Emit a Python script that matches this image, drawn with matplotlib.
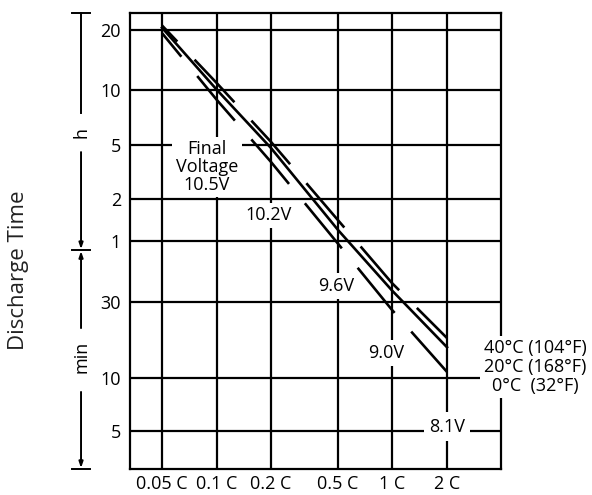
import numpy as np
import matplotlib
matplotlib.use("Agg")
import matplotlib.pyplot as plt
from matplotlib.ticker import NullLocator

plt.rcParams['font.family'] = ['Open Sans', 'DejaVu Sans']
plt.rcParams['lines.scale_dashes'] = False

# discharge current (C rate)
rates = [0.05, 0.1, 0.2, 0.5, 1, 2]
rate_labels = ['0.05 C', '0.1 C', '0.2 C', '0.5 C', '1 C', '2 C']

# discharge time in hours
time_40c = [21.0, 10.8, 5.2, 1.41, 0.62, 0.297]
time_20c = [20.5, 10.0, 4.75, 1.2, 0.57, 0.26]
time_0c = [19.3, 8.8, 3.75, 0.97, 0.446, 0.182]

time_ticks = [20, 10, 5, 2, 1, 0.5, 1 / 6, 1 / 12]
time_labels = ['20', '10', '5', '2', '1', '30', '10', '5']

final_voltages = ['10.5V', '10.2V', '9.6V', '9.0V', '8.1V']
temp_labels = ['40°C (104°F)', '20°C (168°F)', '0°C  (32°F)']


def extrap(x, xp, fp):
    x = np.asarray(x, float)
    y = np.interp(x, xp, fp)
    lo = fp[0] + (x - xp[0]) * (fp[1] - fp[0]) / (xp[1] - xp[0])
    hi = fp[-1] + (x - xp[-1]) * (fp[-1] - fp[-2]) / (xp[-1] - xp[-2])
    y = np.where(x < xp[0], lo, y)
    y = np.where(x > xp[-1], hi, y)
    return y


def grid_scale(vals, pos):
    # chart grid is hand spaced, not a true log: piecewise log scale
    lv = np.log10(vals)
    pos = np.asarray(pos, float)

    def fwd(v):
        with np.errstate(divide='ignore', invalid='ignore'):
            lx = np.log10(np.maximum(np.asarray(v, float), 1e-12))
        return extrap(lx, lv, pos)

    def inv(p):
        return 10 ** extrap(p, pos, lv)
    return fwd, inv


fs = 13
fig = plt.figure(figsize=(5.92, 4.95), dpi=100)
ax = fig.add_axes([130 / 592, 26 / 495, 371 / 592, 456 / 495])

ax.set_xscale('function', functions=grid_scale(
    [0.033, 0.05, 0.1, 0.2, 0.5, 1, 2, 4],
    [0, 32, 87, 141, 208, 262, 317, 371]))
ax.set_yscale('function', functions=grid_scale(
    [0.05, 1 / 12, 1 / 6, 0.5, 1, 2, 5, 10, 20, 24],
    [0, 38, 91, 167, 228, 270, 324, 379, 439, 456]))
ax.set_xlim(0.033, 4)
ax.set_ylim(0.05, 24)

lw = 1.9
ax.plot(rates, time_40c, color='black', lw=lw, linestyle=(26, (42, 18)), solid_capstyle='butt')
ax.plot(rates, time_20c, color='black', lw=lw, linestyle='-')
ax.plot(rates, time_0c, color='black', lw=lw, linestyle=(20, (42, 18)), solid_capstyle='butt')

ax.set_xticks(rates, rate_labels)
ax.set_yticks(time_ticks, time_labels)
ax.xaxis.set_minor_locator(NullLocator())
ax.yaxis.set_minor_locator(NullLocator())
ax.tick_params(axis='both', length=0, labelsize=fs)
ax.tick_params(axis='x', pad=4.5)
ax.tick_params(axis='y', pad=6.5)
ax.grid(True, color='black', lw=1.6)
for sp in ax.spines.values():
    sp.set_linewidth(1.6)

box = dict(facecolor='white', edgecolor='none', boxstyle='square,pad=0.2')
ax.text(0.088, 3.45, 'Final\nVoltage\n' + final_voltages[0], fontsize=fs,
        ha='center', va='center', linespacing=0.98, bbox=box)
ax.text(0.195, 1.53, final_voltages[1], fontsize=fs, ha='center', va='center', bbox=box)
ax.text(0.486, 0.6, final_voltages[2], fontsize=fs, ha='center', va='center', bbox=box)
ax.text(0.927, 0.239, final_voltages[3], fontsize=fs, ha='center', va='center', bbox=box)
ax.text(2.0, 0.088, final_voltages[4], fontsize=fs, ha='center', va='center',
        bbox=dict(facecolor='white', edgecolor='none', boxstyle='square,pad=0.3'))

ax.text(1.092, 0.224, '\n'.join(temp_labels), transform=ax.transAxes, fontsize=fs,
        ha='center', va='center', multialignment='center', linespacing=1.05,
        bbox=dict(facecolor='white', edgecolor='none', boxstyle='square,pad=0.2'))

# h / min bracket on the left
bx = -0.132
kw = dict(color='black', lw=1.4, transform=ax.transAxes, clip_on=False)
for yy in [1.0, 0.48, 0.0]:
    ax.plot([bx - 0.024, bx + 0.024], [yy, yy], **kw)
ax.plot([bx, bx], [1.0, 0.781], **kw)
arrow = dict(arrowstyle='-|>,head_length=0.35,head_width=0.12', lw=1.4, color='black',
             shrinkA=0, shrinkB=0)
ax.annotate('', xy=(bx, 0.482), xytext=(bx, 0.695), xycoords='axes fraction',
            textcoords='axes fraction', arrowprops=arrow)
ax.annotate('', xy=(bx, 0.478), xytext=(bx, 0.309), xycoords='axes fraction',
            textcoords='axes fraction', arrowprops=arrow)
ax.annotate('', xy=(bx, 0.002), xytext=(bx, 0.169), xycoords='axes fraction',
            textcoords='axes fraction', arrowprops=arrow)
ax.text(bx, 0.739, 'h', transform=ax.transAxes, rotation=90, fontsize=fs,
        ha='center', va='center')
ax.text(bx, 0.246, 'min', transform=ax.transAxes, rotation=90, fontsize=fs,
        ha='center', va='center')

fig.text(19 / 592, 1 - 270 / 495, 'Discharge Time', rotation=90, fontsize=16,
         ha='center', va='center', color='#222222')

fig.savefig('out.png', dpi=100)
